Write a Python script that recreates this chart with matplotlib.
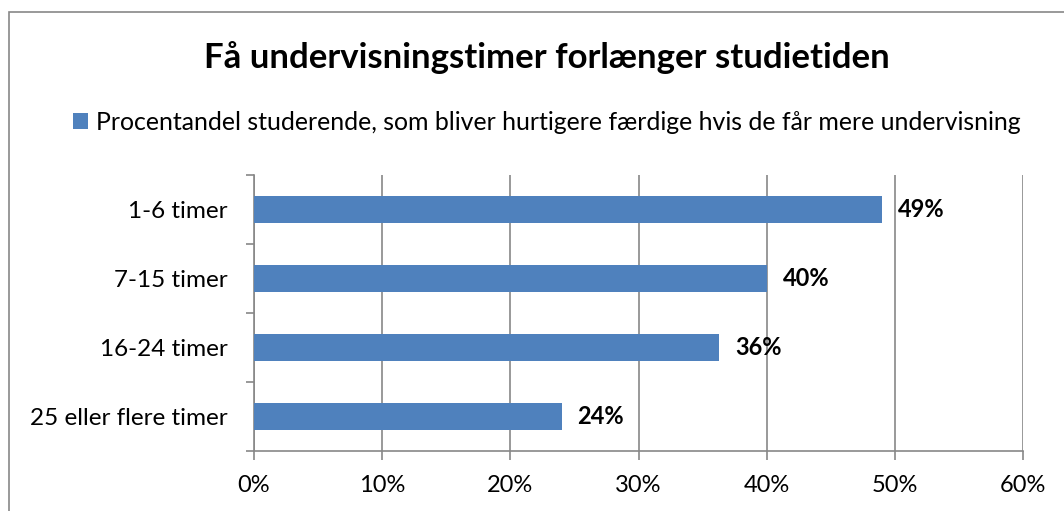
import numpy as np
import matplotlib.pyplot as plt
from matplotlib.patches import Rectangle
from matplotlib.ticker import FixedLocator

plt.rcParams['font.family'] = ['Lato', 'DejaVu Sans']

# Data
kategorier = ["1-6 timer", "7-15 timer", "16-24 timer", "25 eller flere timer"]
andel = [49, 40, 36.3, 24]
etiketter = ["49%", "40%", "36%", "24%"]
x_ticks = [0, 10, 20, 30, 40, 50, 60]

titel = "Få undervisningstimer forlænger studietiden"
serie = "Procentandel studerende, som bliver hurtigere færdige hvis de får mere undervisning"

blaa = '#4F81BD'
graa = '#878787'

fig = plt.figure(figsize=(10.64, 5.11), dpi=100)
ax = fig.add_axes([254/1064, 1 - 451/511, (1023 - 254)/1064, (451 - 175)/511])

y = np.arange(len(kategorier))
ax.barh(y, andel, height=0.4, color=blaa, label=serie, zorder=3)

for yi, v, lab in zip(y, andel, etiketter):
    ax.annotate(lab, xy=(v, yi), xytext=(11.5, 0), textcoords='offset points',
                ha='left', va='center', fontsize=17, fontweight='bold', zorder=4)

ax.set_xlim(0, 60)
ax.set_ylim(len(kategorier) - 0.5, -0.5)

ax.set_xticks(x_ticks)
ax.set_xticklabels([f"{t}%" for t in x_ticks], fontsize=17)
ax.set_yticks(y)
ax.set_yticklabels(kategorier, fontsize=17.5)
ax.yaxis.set_minor_locator(FixedLocator(np.arange(-0.5, len(kategorier), 1)))

ax.tick_params(axis='y', which='major', length=0, pad=19)
ax.tick_params(axis='y', which='minor', length=6, width=1.2, color=graa, direction='out')
ax.tick_params(axis='x', which='major', length=6.5, width=1.2, color=graa, direction='out', pad=11)

ax.grid(axis='x', color=graa, linewidth=1.2, zorder=0)
for s in ['top', 'right']:
    ax.spines[s].set_visible(False)
for s in ['left', 'bottom']:
    ax.spines[s].set_color(graa)
    ax.spines[s].set_linewidth(1.2)

fig.text(547/1064, 1 - 58/511, titel, ha='center', va='center', fontsize=25, fontweight='bold')

leg = fig.legend(loc='center', bbox_to_anchor=(547/1064, 1 - 122/511), frameon=False,
                 fontsize=17.9, handlelength=0.6, handleheight=0.6, handletextpad=0.35)

# ydre ramme (skåret af i højre side og bunden)
fig.patches.append(Rectangle((9/1064, -0.1), 1.2, 1.1 - 12/511,
                             transform=fig.transFigure, fill=False, edgecolor=graa,
                             linewidth=1.2, clip_on=False))

plt.savefig("out.png", dpi=100)
